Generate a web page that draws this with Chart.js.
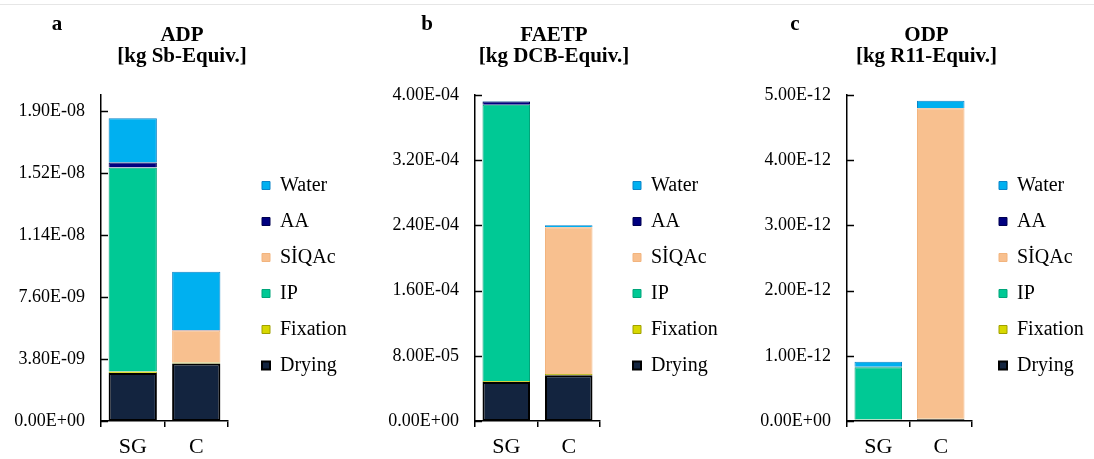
<!DOCTYPE html>
<html>
<head>
<meta charset="utf-8">
<script src="https://cdn.jsdelivr.net/npm/chart.js@4"></script>
<style>
  body { margin: 0; background: #fff; overflow: hidden; }
  .topline { position: absolute; left: 0; top: 4px; width: 1094px; height: 1px; background: #e6e6e6; }
  canvas { position: absolute; top: 0; }
</style>
</head>
<body>
<div class="topline"></div>
<canvas id="adp" width="373" height="459" style="left:0px"></canvas>
<canvas id="faetp" width="373" height="459" style="left:373px"></canvas>
<canvas id="odp" width="373" height="459" style="left:746px"></canvas>
<script>
// --- data ---
const categories = ['SG', 'C'];
const stages = ['Drying', 'Fixation', 'IP', 'SİQAc', 'AA', 'Water'];
const stageColors = ['#13243f', '#d8d800', '#00c995', '#f8c08f', '#000080', '#00b0f0'];
const stageBorders = ['#000000', '#a0a000', '#00a57a', '#f2b47e', '#000050', '#0a84c8'];

// values per stage, in the order of `stages`
const adpSG = [2.95e-9, 0.08e-9, 12.5e-9, 0.02e-9, 0.31e-9, 2.72e-9];
const adpC = [3.52e-9, 0.07e-9, 0, 1.96e-9, 0.03e-9, 3.58e-9];
const faetpSG = [4.79e-5, 1.2e-6, 3.39e-4, 0, 4.0e-6, 0.5e-6];
const faetpC = [5.6e-5, 1.8e-6, 0, 1.80e-4, 0.3e-6, 2.1e-6];
const odpSG = [0.02e-12, 0.003e-12, 0.80e-12, 0, 0.01e-12, 0.075e-12];
const odpC = [0.025e-12, 0.01e-12, 0, 4.76e-12, 0.005e-12, 0.11e-12];

const adpTicks = [0, 3.8e-9, 7.6e-9, 1.14e-8, 1.52e-8, 1.9e-8];
const faetpTicks = [0, 8e-5, 1.6e-4, 2.4e-4, 3.2e-4, 4e-4];
const odpTicks = [0, 1e-12, 2e-12, 3e-12, 4e-12, 5e-12];

const FONT = "'Liberation Serif', 'Times New Roman', serif";

function sci(v) {
    if (v === 0) return '0.00E+00';
    const [m, e] = v.toExponential(2).split('e');
    const n = parseInt(e, 10);
    return m + 'E' + (n < 0 ? '-' : '+') + String(Math.abs(n)).padStart(2, '0');
}

// small inward tick marks on the y axis + panel letter
const decor = {
    id: 'decor',
    afterDraw(chart, args, opts) {
        const ctx = chart.ctx;
        const y = chart.scales.y;
        ctx.save();
        ctx.strokeStyle = '#000';
        ctx.lineWidth = 1.5;
        y.ticks.forEach(t => {
            const py = Math.round(y.getPixelForValue(t.value)) + 0.5;
            ctx.beginPath();
            ctx.moveTo(y.right, py);
            ctx.lineTo(y.right + 7, py);
            ctx.stroke();
        });
        ctx.fillStyle = '#000';
        ctx.font = 'bold 21px ' + FONT;
        ctx.textAlign = 'center';
        ctx.textBaseline = 'middle';
        ctx.fillText(opts.letter, opts.x, 25);
        ctx.restore();
    }
};

function makePanel(id, sg, c, ticks, yMax, title, p) {
    const datasets = stages.map((name, i) => ({
        label: name,
        data: [sg[i], c[i]],
        backgroundColor: stageColors[i],
        borderColor: stageBorders[i],
        borderWidth: i === 0 ? 2 : 1,
        borderSkipped: i === 0 ? false : 'start',
        barPercentage: 0.76,
        categoryPercentage: 1
    }));

    new Chart(document.getElementById(id), {
        type: 'bar',
        data: { labels: categories, datasets: datasets },
        plugins: [decor],
        options: {
            responsive: false,
            animation: false,
            layout: { padding: { left: 14, right: p.padR, top: 0, bottom: 0 } },
            plugins: {
                decor: { letter: p.letter, x: p.letterX },
                tooltip: { enabled: false },
                title: {
                    display: true,
                    text: title,
                    color: '#000',
                    font: { family: FONT, size: 21, weight: 'bold', lineHeight: 1 },
                    padding: { top: 25, bottom: 28 }
                },
                legend: {
                    position: 'right',
                    fullSize: false,
                    align: 'start',
                    reverse: true,
                    maxWidth: p.legendW,
                    title: { display: true, text: '', padding: { top: 0, bottom: 52.5 }, font: { size: 10, lineHeight: 1.2 } },
                    labels: {
                        color: '#000',
                        font: { family: FONT, size: 20 },
                        boxWidth: 8,
                        boxHeight: 8,
                        padding: 16
                    }
                }
            },
            scales: {
                x: {
                    stacked: true,
                    grid: { offset: true, drawOnChartArea: false, drawTicks: true, tickLength: 6, color: '#000', lineWidth: 1.5 },
                    border: { color: '#000', width: 1.5 },
                    ticks: { color: '#000', font: { family: FONT, size: 22 }, padding: 7 },
                    afterFit: s => { s.height = 38; }
                },
                y: {
                    stacked: true,
                    min: 0,
                    max: yMax,
                    grid: { display: false, drawTicks: false },
                    border: { color: '#000', width: 1.5 },
                    ticks: { color: '#000', font: { family: FONT, size: 18 }, padding: 16, callback: v => sci(v) },
                    afterBuildTicks: axis => { axis.ticks = ticks.map(v => ({ value: v })); },
                    afterFit: s => { s.width = p.axisW; }
                },
                gap: {
                    type: 'linear',
                    position: 'right',
                    display: true,
                    grid: { display: false, drawTicks: false },
                    border: { display: false },
                    ticks: { display: false },
                    afterFit: s => { s.width = p.gap; }
                }
            }
        }
    });
}

makePanel('adp', adpSG, adpC, adpTicks, 2.0e-8, ['ADP', '[kg Sb-Equiv.]'],
    { padR: 23, axisW: 87, gap: 18, legendW: 104, letter: 'a', letterX: 57 });
makePanel('faetp', faetpSG, faetpC, faetpTicks, 4e-4, ['FAETP', '[kg DCB-Equiv.]'],
    { padR: 25, axisW: 88, gap: 17, legendW: 104, letter: 'b', letterX: 54 });
makePanel('odp', odpSG, odpC, odpTicks, 5e-12, ['ODP', '[kg R11-Equiv.]'],
    { padR: 26, axisW: 87, gap: 11, legendW: 110, letter: 'c', letterX: 49 });
</script>
</body>
</html>
